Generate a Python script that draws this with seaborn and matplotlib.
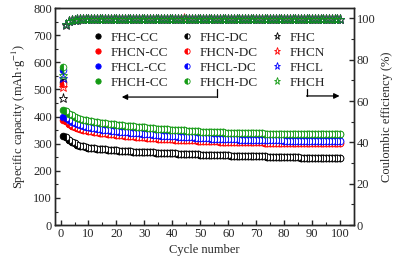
import matplotlib
matplotlib.use("Agg")
import matplotlib.pyplot as plt
import seaborn as sns
import pandas as pd

# ------------------ DATOS ------------------

cycles = list(range(1, 101))

fhc_cc = [328, 325, 314, 306, 301, 297, 293, 290, 287, 285,
          284, 283, 282, 281, 280, 279, 278, 277, 276, 275,
          274, 274, 273, 273, 272, 271, 271, 270, 270, 269,
          269, 268, 268, 267, 267, 266, 266, 265, 265, 264,
          264, 263, 263, 263, 262, 262, 261, 261, 261, 260,
          260, 259, 259, 259, 258, 258, 258, 257, 257, 257,
          256, 256, 256, 255, 255, 255, 254, 254, 254, 254,
          253, 253, 253, 252, 252, 252, 252, 251, 251, 251,
          251, 250, 250, 250, 250, 249, 249, 249, 249, 249,
          248, 248, 248, 248, 248, 247, 247, 247, 247, 247]

fhcn_cc = [388, 384, 374, 367, 362, 358, 355, 352, 350, 348,
           346, 344, 342, 341, 339, 338, 337, 335, 334, 333,
           332, 331, 330, 329, 328, 327, 326, 325, 324, 323,
           322, 321, 321, 320, 319, 318, 318, 317, 316, 316,
           315, 315, 314, 314, 313, 313, 312, 312, 311, 311,
           310, 310, 310, 309, 309, 309, 308, 308, 308, 307,
           307, 307, 307, 306, 306, 306, 306, 305, 305, 305,
           305, 305, 304, 304, 304, 304, 304, 304, 303, 303,
           303, 303, 303, 303, 303, 303, 302, 302, 302, 302,
           302, 302, 302, 302, 302, 302, 302, 301, 301, 301]

fhcl_cc = [400, 396, 387, 380, 375, 371, 368, 365, 363, 361,
           359, 357, 355, 354, 352, 351, 350, 348, 347, 346,
           345, 344, 343, 342, 341, 340, 339, 338, 337, 336,
           335, 334, 333, 332, 331, 330, 330, 329, 328, 327,
           327, 326, 325, 325, 324, 323, 323, 322, 322, 321,
           321, 320, 320, 319, 319, 318, 318, 318, 317, 317,
           316, 316, 316, 315, 315, 315, 314, 314, 314, 314,
           313, 313, 313, 313, 312, 312, 312, 312, 312, 311,
           311, 311, 311, 311, 311, 310, 310, 310, 310, 310,
           310, 310, 310, 309, 309, 309, 309, 309, 309, 309]

fhch_cc = [425, 421, 411, 404, 399, 395, 392, 389, 387, 385,
           383, 381, 379, 378, 376, 375, 373, 372, 371, 370,
           369, 368, 367, 366, 365, 364, 363, 362, 361, 360,
           359, 358, 357, 356, 355, 354, 354, 353, 352, 351,
           351, 350, 349, 349, 348, 347, 347, 346, 346, 345,
           345, 344, 344, 343, 343, 343, 342, 342, 341, 341,
           341, 340, 340, 340, 339, 339, 339, 339, 338, 338,
           338, 338, 337, 337, 337, 337, 337, 336, 336, 336,
           336, 336, 336, 335, 335, 335, 335, 335, 335, 335,
           335, 335, 334, 334, 334, 334, 334, 334, 334, 334]

# primer ciclo de descarga (el resto coincide con la carga)
dc_first = {"FHC": 528, "FHCN": 520, "FHCL": 571, "FHCH": 583}

fhc_ce = [61.4, 97.0, 98.6, 99.1, 99.3, 99.4, 99.5, 99.5, 99.6, 99.6,
          99.6, 99.7, 99.6, 99.7, 99.7, 99.6, 99.7, 99.7, 99.8, 99.7,
          99.7, 99.6, 99.7, 99.8, 99.7, 99.7, 99.8, 99.7, 99.6, 99.7,
          99.8, 99.7, 99.7, 99.8, 99.7, 99.9, 99.7, 99.8, 99.7, 99.7,
          99.8, 99.7, 99.8, 99.8, 99.7, 99.8, 99.9, 99.7, 99.8, 99.8,
          99.7, 99.8, 99.8, 99.7, 99.8, 99.8, 99.9, 99.8, 99.7, 99.8,
          99.8, 99.8, 99.7, 99.8, 99.8, 99.9, 99.8, 99.8, 99.7, 99.8,
          99.8, 99.8, 99.8, 99.7, 99.8, 99.8, 99.8, 99.9, 99.8, 99.8,
          99.8, 99.7, 99.8, 99.8, 99.8, 99.8, 99.9, 99.8, 99.8, 99.8,
          99.7, 99.8, 99.8, 99.8, 99.8, 99.8, 99.8, 99.9, 99.8, 99.8]

fhcn_ce = [66.8, 97.2, 98.7, 99.2, 99.4, 99.5, 99.5, 99.6, 99.6, 99.7,
           99.6, 99.7, 99.7, 99.8, 99.7, 99.7, 99.6, 99.7, 99.8, 99.7,
           99.8, 99.7, 99.7, 99.6, 99.8, 99.7, 99.7, 99.8, 99.7, 99.7,
           99.7, 99.8, 99.7, 99.7, 99.8, 99.7, 99.8, 99.7, 99.8, 99.8,
           99.7, 99.8, 99.7, 100.3, 99.8, 99.7, 99.8, 99.8, 99.7, 99.8,
           99.8, 99.7, 99.8, 99.8, 99.8, 99.7, 99.8, 99.8, 99.8, 99.7,
           99.8, 99.8, 99.8, 99.7, 99.8, 99.8, 99.8, 99.8, 99.7, 99.8,
           99.8, 99.8, 99.7, 99.8, 99.8, 99.8, 99.8, 99.8, 99.7, 99.8,
           99.8, 99.8, 99.8, 99.7, 99.8, 99.8, 99.8, 99.8, 99.8, 99.7,
           99.8, 99.8, 99.8, 99.8, 99.8, 99.7, 99.8, 99.8, 99.8, 99.8]

fhcl_ce = [71.0, 97.1, 98.7, 99.2, 99.4, 99.5, 99.6, 99.6, 99.6, 99.7,
           99.7, 99.6, 99.7, 99.7, 99.8, 99.7, 99.7, 99.7, 99.6, 99.8,
           99.7, 99.7, 99.8, 99.7, 99.7, 99.6, 99.8, 99.7, 99.7, 99.8,
           99.7, 99.7, 99.8, 99.7, 99.8, 99.7, 99.7, 99.8, 99.8, 99.7,
           99.8, 99.7, 99.8, 99.8, 99.7, 99.8, 99.8, 99.7, 99.8, 99.8,
           99.8, 99.7, 99.8, 99.8, 99.8, 99.7, 99.8, 99.8, 99.8, 99.8,
           99.7, 99.8, 99.8, 99.8, 99.7, 99.8, 99.8, 99.8, 99.8, 99.7,
           99.8, 99.8, 99.8, 99.8, 99.7, 99.8, 99.8, 99.8, 99.8, 99.8,
           99.7, 99.8, 99.8, 99.8, 99.8, 99.8, 99.7, 99.8, 99.8, 99.8,
           99.8, 99.8, 99.7, 99.8, 99.8, 99.8, 99.8, 99.8, 99.8, 99.8]

fhch_ce = [72.6, 97.3, 98.8, 99.2, 99.4, 99.5, 99.6, 99.6, 99.7, 99.7,
           99.7, 99.7, 99.8, 99.7, 99.7, 99.8, 99.7, 99.7, 99.8, 99.7,
           99.8, 99.7, 99.7, 99.8, 99.8, 99.7, 99.8, 99.7, 99.8, 99.8,
           99.7, 99.8, 99.8, 99.7, 99.8, 99.8, 99.8, 99.7, 99.8, 99.8,
           99.8, 99.7, 99.8, 99.8, 99.8, 99.8, 99.7, 99.8, 99.8, 99.8,
           99.8, 99.8, 99.7, 99.8, 99.8, 99.8, 99.8, 99.8, 99.7, 99.8,
           99.8, 99.8, 99.8, 99.8, 99.8, 99.7, 99.8, 99.8, 99.8, 99.8,
           99.8, 99.8, 99.7, 99.8, 99.8, 99.8, 99.8, 99.8, 99.8, 99.8,
           99.7, 99.8, 99.8, 99.8, 99.8, 99.8, 99.8, 99.8, 99.7, 99.8,
           99.8, 99.8, 99.8, 99.8, 99.8, 99.8, 99.8, 99.8, 99.8, 99.8]

muestras = ["FHC", "FHCN", "FHCL", "FHCH"]
colores = {"FHC": "black", "FHCN": "#ff0000", "FHCL": "#0000ff", "FHCH": "#139a13"}
carga = {"FHC": fhc_cc, "FHCN": fhcn_cc, "FHCL": fhcl_cc, "FHCH": fhch_cc}
eficiencia = {"FHC": fhc_ce, "FHCN": fhcn_ce, "FHCL": fhcl_ce, "FHCH": fhch_ce}

# ------------------ GRAFICO ------------------

sns.set_theme(style="ticks")
plt.rcParams.update({
    "font.family": ["Liberation Serif", "DejaVu Serif"],
    "mathtext.fontset": "stix",
    "font.size": 9,
    "xtick.direction": "in",
    "ytick.direction": "in",
    "axes.linewidth": 1.0,
})

fig = plt.figure(figsize=(4.01, 2.68), dpi=100)
ax = fig.add_axes([0.137, 0.160, 0.746, 0.810])
ax2 = ax.twinx()

for m in muestras:
    df = pd.DataFrame({"ciclo": cycles, "cap": carga[m]})
    sns.lineplot(data=df, x="ciclo", y="cap", ax=ax, linestyle="none",
                 marker="o", markersize=4.8, color=colores[m],
                 markeredgecolor=colores[m], markeredgewidth=0.6,
                 label=f"{m}-CC", legend=False)

for m in muestras:
    df = pd.DataFrame({"ciclo": cycles, "cap": [dc_first[m]] + carga[m][1:]})
    sns.lineplot(data=df, x="ciclo", y="cap", ax=ax, linestyle="none",
                 marker="o", markersize=4.8, fillstyle="left",
                 color=colores[m], markerfacecoloralt="white",
                 markeredgecolor=colores[m], markeredgewidth=0.6,
                 label=f"{m}-DC", legend=False)

for m in muestras:
    df = pd.DataFrame({"ciclo": cycles, "ce": eficiencia[m]})
    sns.lineplot(data=df, x="ciclo", y="ce", ax=ax2, linestyle="none",
                 marker="*", markersize=6.5, fillstyle="none",
                 color=colores[m], markeredgecolor=colores[m],
                 markeredgewidth=0.6, label=m, legend=False)

ax.set_xlim(-2, 105)
ax.set_ylim(0, 800)
ax2.set_ylim(0, 105)
ax.set_xticks(range(0, 101, 10))
ax.set_xticks(range(0, 101, 5), minor=True)
ax.set_yticks(range(0, 801, 100))
ax.set_yticks(range(0, 801, 50), minor=True)
ax2.set_yticks(range(0, 101, 20))
ax2.set_yticks(range(0, 101, 10), minor=True)

ax.tick_params(which="major", length=3.5, width=1.0, labelsize=9, pad=2, top=False, right=False)
ax.tick_params(which="minor", length=2, width=0.8, top=False, right=False)
ax2.tick_params(which="major", length=3.5, width=1.0, labelsize=9, pad=2)
ax2.tick_params(which="minor", length=2, width=0.8)

ax.set_xlabel("Cycle number", fontsize=9, labelpad=3)
ax.set_ylabel("Specific capacity (mAh·g$^{-1}$)", fontsize=9, labelpad=4)
ax2.set_ylabel("Coulombic efficiency (%)", fontsize=9, labelpad=4)

# flechas
ax.plot([55.8, 55.8], [472, 500], color="black", lw=0.9)
ax.annotate("", xy=(21.9, 472), xytext=(55.8, 472),
            arrowprops=dict(arrowstyle="-|>", color="black", lw=0.9,
                            mutation_scale=8, shrinkA=0, shrinkB=0))
ax.plot([88.0, 88.0], [500, 476], color="black", lw=0.9)
ax.annotate("", xy=(99.8, 476), xytext=(88.0, 476),
            arrowprops=dict(arrowstyle="-|>", color="black", lw=0.9,
                            mutation_scale=8, shrinkA=0, shrinkB=0))

h1, l1 = ax.get_legend_handles_labels()
h2, l2 = ax2.get_legend_handles_labels()
ax2.legend(h1 + h2, l1 + l2, ncol=3, loc="upper left",
           bbox_to_anchor=(0.107, 0.915), frameon=False, fontsize=9.5,
           handlelength=0.8, handletextpad=0.6, columnspacing=1.0,
           labelspacing=0.2, borderaxespad=0, markerscale=0.8)

plt.savefig("out.png", dpi=100)
plt.close()
